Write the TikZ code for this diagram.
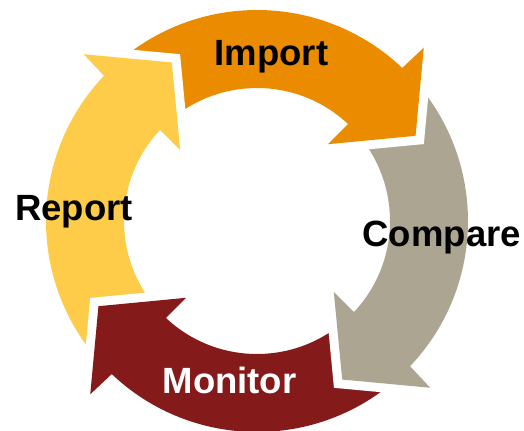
\documentclass[tikz,border=0pt]{standalone}
\usepackage{fontspec}
\setmainfont{Liberation Sans}
\definecolor{cOrange}{RGB}{235,140,0}
\definecolor{cGray}{RGB}{172,165,145}
\definecolor{cRed}{RGB}{133,26,27}
\definecolor{cYellow}{RGB}{254,204,72}
\tikzset{
  lbl/.style={font=\bfseries\fontsize{36.5bp}{40bp}\selectfont, inner sep=0pt, anchor=base},
  gapline/.style={draw=white, line width=18bp, line join=miter, miter limit=10},
}
\begin{document}
\begin{tikzpicture}[x=1bp,y=1bp]
\useasboundingbox (0,0) rectangle (524,430);
\clip (0,0) rectangle (524,430);
\begin{scope}[shift={(257,209)}]
  % arrow bodies (annular sectors)
  \foreach \t/\c in {0/cOrange, -90/cGray, 180/cRed, 90/cYellow} {
    \fill[\c] ({\t+46}:211) arc[start angle={\t+46}, end angle={\t+135}, radius=211]
      -- ({\t+135}:133) arc[start angle={\t+135}, end angle={\t+46}, radius=133] -- cycle;
  }
  % arrow heads with white gap
  \foreach \t/\c in {0/cOrange, -90/cGray, 180/cRed, 90/cYellow} {
    \draw[gapline] ({\t+46.1}:240.5) -- ({\t+28.25}:180) -- ({\t+47.3}:104.5);
    \fill[\c] ({\t+46.5}:211) -- ({\t+46.1}:240.5) -- ({\t+28.25}:180)
      -- ({\t+47.3}:104.5) -- ({\t+46.8}:133) -- cycle;
  }
\end{scope}
\node[lbl] (import) at (271.5,365) {Import};
\node[lbl] (compare) at (441.7,184) {Compare};
\node[lbl] (report) at (74,210) {Report};
\node[lbl, text=white] (monitor) at (229.5,37) {Monitor};
\end{tikzpicture}
\end{document}
